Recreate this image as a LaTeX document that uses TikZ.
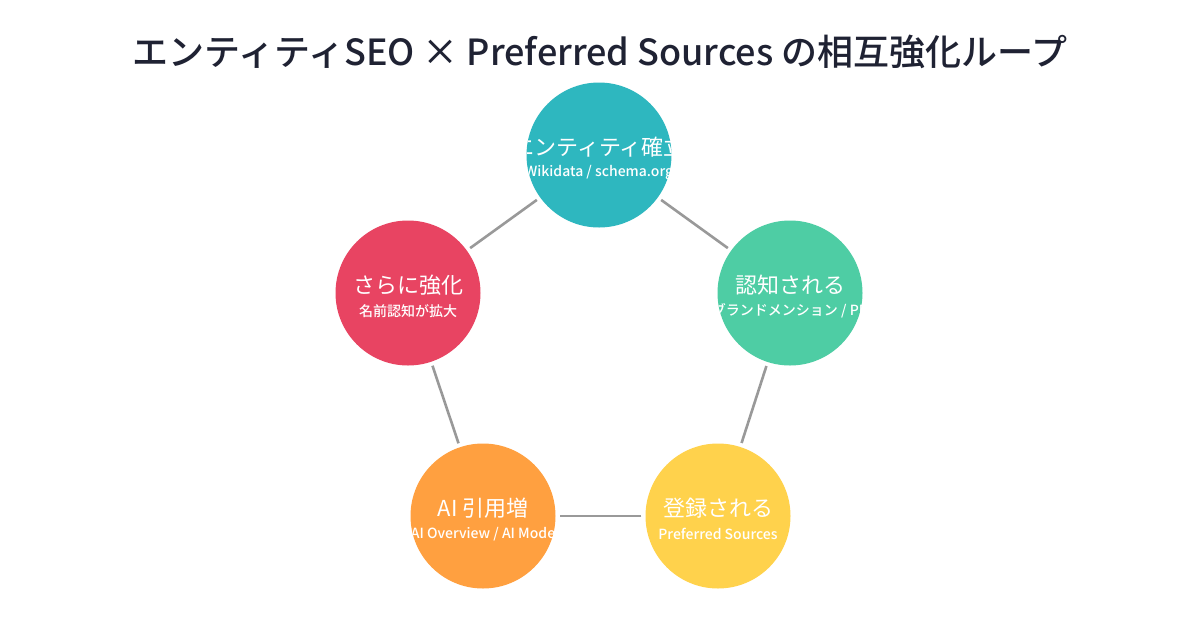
\documentclass[tikz,border=0pt]{standalone}
\usepackage{fontspec}
\setmainfont{Noto Sans CJK JP}
\newfontfamily\jp{Noto Sans CJK JP}
\newfontfamily\jpmed{Noto Sans CJK JP Medium}
\usetikzlibrary{calc}
\definecolor{ctitle}{HTML}{1F2233}
\definecolor{cteal}{HTML}{2EB7BF}
\definecolor{cgreen}{HTML}{4ECDA4}
\definecolor{cyellow}{HTML}{FFD24C}
\definecolor{corange}{HTML}{FFA040}
\definecolor{cred}{HTML}{E84462}
\definecolor{cline}{HTML}{999999}
\begin{document}
\begin{tikzpicture}[x=1pt,y=-1pt,
  stage/.style={circle,minimum size=145pt,inner sep=0pt,fill=#1},
  maintxt/.style={text=white,font=\jp\fontsize{22}{26}\selectfont,inner sep=0pt},
  subtxt/.style={text=white,font=\jpmed\fontsize{14}{16}\selectfont,inner sep=0pt},
  link/.style={draw=cline,line width=2.6pt,shorten >=4pt,shorten <=4pt}]
\useasboundingbox (0,0) rectangle (1200,630);
\fill[white] (0,0) rectangle (1200,630);
\node[text=ctitle,font=\jpmed\fontsize{36}{40}\selectfont,inner sep=0pt] (title) at (600,52) {エンティティSEO × Preferred Sources の相互強化ループ};
\node[stage=cteal] (a) at (599,155) {};
\node[stage=cgreen] (b) at (790,293) {};
\node[stage=cyellow] (c) at (718,516) {};
\node[stage=corange] (d) at (483,516) {};
\node[stage=cred] (e) at (408,293) {};
\draw[link] (a) -- (b);
\draw[link] (b) -- (c);
\draw[link] (c) -- (d);
\draw[link] (d) -- (e);
\draw[link] (e) -- (a);
\begin{scope}
\clip (a) circle (72.5pt);
\node[maintxt] (a1) at ($(a)+(0,-8)$) {エンティティ確立};
\node[subtxt] (a2) at ($(a)+(0,18)$) {Wikidata / schema.org};
\end{scope}
\begin{scope}
\clip (b) circle (72.5pt);
\node[maintxt] (b1) at ($(b)+(0,-8)$) {認知される};
\node[subtxt] (b2) at ($(b)+(0,18)$) {ブランドメンション / PR};
\end{scope}
\begin{scope}
\clip (c) circle (72.5pt);
\node[maintxt] (c1) at ($(c)+(0,-8)$) {登録される};
\node[subtxt] (c2) at ($(c)+(0,18)$) {Preferred Sources};
\end{scope}
\begin{scope}
\clip (d) circle (72.5pt);
\node[maintxt] (d1) at ($(d)+(0,-8)$) {AI 引用増};
\node[subtxt] (d2) at ($(d)+(0,18)$) {AI Overview / AI Mode};
\end{scope}
\begin{scope}
\clip (e) circle (72.5pt);
\node[maintxt] (e1) at ($(e)+(0,-8)$) {さらに強化};
\node[subtxt] (e2) at ($(e)+(0,18)$) {名前認知が拡大};
\end{scope}
\end{tikzpicture}
\end{document}
